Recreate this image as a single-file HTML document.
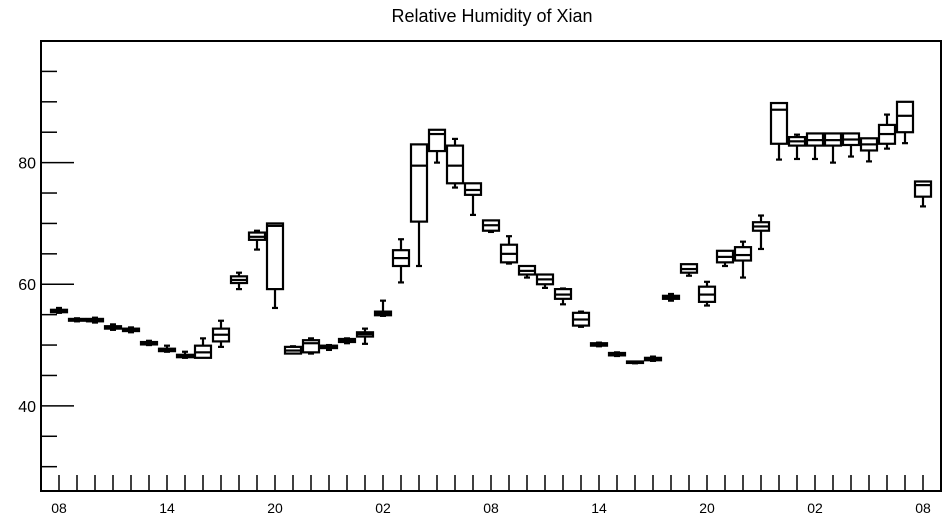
<!DOCTYPE html>
<html><head><meta charset="utf-8"><style>
html,body{margin:0;padding:0;background:#fff;}
svg{display:block;font-family:"Liberation Sans",sans-serif;}
</style></head><body>
<svg id="chart" width="947" height="520" viewBox="0 0 947 520" xmlns="http://www.w3.org/2000/svg">
<text x="492" y="22" text-anchor="middle" font-size="18" fill="#000">Relative Humidity of Xian</text>
<rect x="41" y="41" width="900" height="450" fill="none" stroke="#000" stroke-width="2"/>
<g id="marks"></g>
</svg>
<script>
const hourLabels = ["08","","","","","","14","","","","","","20","","","","","","02","","","","","","08","","","","","","14","","","","","","20","","","","","","02","","","","","","08"];
const q1  = [55.4,54.0,53.9,52.7,52.3,50.1,49.0,48.0,47.9,50.6,60.2,67.3,59.2,48.6,48.8,49.5,50.5,51.4,54.9,63.0,70.3,81.9,76.6,74.7,68.8,63.6,61.6,60.0,57.6,53.2,49.9,48.3,47.1,47.5,57.6,61.9,57.1,63.6,63.9,68.8,83.1,82.8,82.8,82.8,82.9,82.0,83.1,85.0,74.4];
const med = [55.6,54.2,54.1,52.9,52.5,50.3,49.2,48.2,48.8,51.7,60.7,67.8,69.6,49.1,50.3,49.7,50.7,51.8,55.2,64.3,79.5,84.7,79.5,75.5,69.7,65.0,62.2,60.8,58.3,54.2,50.1,48.5,47.2,47.7,57.9,62.5,58.3,64.5,64.8,69.5,88.7,83.5,83.7,83.7,83.8,83.0,84.7,87.7,76.3];
const q3  = [55.8,54.3,54.3,53.1,52.7,50.5,49.4,48.4,49.9,52.7,61.3,68.5,70.0,49.7,50.8,49.9,51.0,52.1,55.5,65.6,83.0,85.4,82.8,76.6,70.5,66.5,63.0,61.6,59.2,55.3,50.3,48.7,47.3,47.9,58.1,63.3,59.6,65.5,66.1,70.2,89.8,84.2,84.8,84.8,84.8,84.0,86.2,90.0,76.9];
const lo  = [55.3,53.9,53.7,52.5,52.1,50.0,48.9,47.9,47.9,49.7,59.2,65.7,56.1,48.6,48.6,49.2,50.3,50.2,54.8,60.3,63.0,80.0,75.9,71.4,68.6,63.4,61.1,59.4,56.7,53.0,49.8,48.2,47.0,47.4,57.3,61.4,56.5,63.0,61.1,65.8,80.5,80.6,80.6,80.0,81.0,80.2,82.3,83.2,72.8];
const hi  = [56.1,54.4,54.5,53.4,52.9,50.7,49.9,48.9,51.1,54.0,61.9,68.8,70.0,49.8,51.1,50.0,51.1,52.7,57.3,67.4,83.0,85.4,83.9,76.6,70.5,67.9,63.0,61.6,59.3,55.5,50.4,48.8,47.3,48.1,58.4,63.3,60.4,65.5,67.0,71.3,89.8,84.6,84.8,84.8,84.8,84.0,87.9,90.0,76.9];
const yTicks = [40,60,80];
const yMin = 26, yMax = 100;
const X0 = 59, HOUR = 18;
function xs(i){ return X0 + i*HOUR; }
function ys(v){ return 491 - (v - yMin) * (450/(yMax - yMin)); }
const NS = "http://www.w3.org/2000/svg";
const g = document.getElementById("marks");
function mk(tag, attrs){ const e = document.createElementNS(NS, tag); for (const k in attrs) e.setAttribute(k, attrs[k]); g.appendChild(e); return e; }
// y ticks
for (let v = 30; v <= 95; v += 5) {
  const major = yTicks.includes(v);
  const t = mk("line", {x1:41, x2: major ? 74 : 57, y1: ys(v), y2: ys(v), stroke:"#000", "stroke-width":1.5});
  
  
}
yTicks.forEach(v => {
  const t = mk("text", {x:36, y: ys(v)+6, "text-anchor":"end", "font-size":16});
  t.textContent = v;
  
  
});
// x ticks
hourLabels.forEach((lab, i) => {
  const t = mk("line", {x1: xs(i), x2: xs(i), y1: 491, y2: 475, stroke:"#000", "stroke-width":1.5});
  
  
  if (lab) {
    const l = mk("text", {x: xs(i), y: 513, "text-anchor":"middle", "font-size":14});
    l.textContent = lab;
    
    
  }
});
// boxes
q1.forEach((_, i) => {
  const cx = xs(i), w = 16;
  const grp = document.createElementNS(NS, "g");
  
  
  g.appendChild(grp);
  const add = (tag, a) => { const e = document.createElementNS(NS, tag); for (const k in a) e.setAttribute(k, a[k]); e.setAttribute("stroke","#000"); e.setAttribute("stroke-width",2.2); grp.appendChild(e); return e; };
  const top = ys(q3[i]), bot = ys(q1[i]);
  add("rect", {x: cx - w/2, y: top, width: w, height: Math.max(bot - top, 1.5), fill:"none"});
  add("line", {x1: cx - w/2, x2: cx + w/2, y1: ys(med[i]), y2: ys(med[i])});
  if (hi[i] > q3[i] + 0.05) {
    add("line", {x1: cx, x2: cx, y1: ys(hi[i]), y2: top});
    add("line", {x1: cx - 3, x2: cx + 3, y1: ys(hi[i]), y2: ys(hi[i])});
  }
  if (lo[i] < q1[i] - 0.05) {
    add("line", {x1: cx, x2: cx, y1: bot, y2: ys(lo[i])});
    add("line", {x1: cx - 3, x2: cx + 3, y1: ys(lo[i]), y2: ys(lo[i])});
  }
});
</script>
</body></html>
